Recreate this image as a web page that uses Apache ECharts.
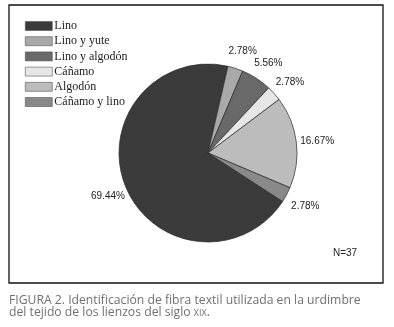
<!DOCTYPE html>
<html>
<head>
<meta charset="utf-8">
<script src="https://cdn.jsdelivr.net/npm/echarts@6/dist/echarts.min.js"></script>
<style>html,body{margin:0;padding:0;background:#fff}#c{width:394px;height:327px}</style>
</head>
<body>
<div id="c"></div>
<script>
var categories = ['Lino', 'Lino y yute', 'Lino y algodón', 'Cáñamo', 'Algodón', 'Cáñamo y lino'];
var percents = [69.44, 2.78, 5.56, 2.78, 16.67, 2.78];
var colors = ['#3b3b3b', '#a9a9a9', '#696969', '#e6e6e6', '#bcbcbc', '#898989'];
var noteText = 'N=37';
var captionLine1 = 'FIGURA 2. Identificación de fibra textil utilizada en la urdimbre';
var captionLine2a = 'del tejido de los lienzos del siglo ';
var captionLine2b = 'XIX';

var data = categories.map(function (n, i) {
  return { name: n, value: percents[i], itemStyle: { color: colors[i] } };
});

var chart = echarts.init(document.getElementById('c'), null, { renderer: 'canvas' });
chart.setOption({
  animation: false,
  backgroundColor: '#fff',
  legend: {
    orient: 'vertical',
    left: 25,
    top: 20,
    padding: 0,
    itemWidth: 27,
    itemHeight: 9,
    itemGap: 3.2,
    icon: 'rect',
    data: categories,
    itemStyle: { borderColor: '#555', borderWidth: 0.6 },
    textStyle: { fontFamily: 'Liberation Serif', fontSize: 12, color: '#222', padding: [0, 0, 0, -3] }
  },
  series: [
    {
      type: 'pie',
      center: [208, 153],
      radius: 89,
      startAngle: -33,
      clockwise: true,
      data: data,
      label: { show: false },
      labelLine: { show: false },
      itemStyle: { borderColor: '#2a2a2a', borderWidth: 0.7 },
      emphasis: { disabled: true }
    },
    {
      type: 'pie',
      center: [208, 153],
      radius: [0, 212],
      startAngle: -33,
      clockwise: true,
      silent: true,
      data: data.map(function (d) { return { name: d.name, value: d.value }; }),
      itemStyle: { color: 'rgba(0,0,0,0)', borderWidth: 0 },
      label: {
        show: true,
        position: 'inside',
        offset: [1, 2],
        formatter: function (p) { return p.value.toFixed(2) + '%'; },
        fontFamily: 'Liberation Sans',
        fontSize: 10,
        color: '#222'
      },
      labelLine: { show: false },
      emphasis: { disabled: true }
    }
  ],
  graphic: [
    { type: 'rect', shape: { x: 9, y: 5, width: 374, height: 278 }, style: { fill: 'none', stroke: '#111', lineWidth: 1.3 } },
    { type: 'text', left: 333, top: 248, style: { text: noteText, font: '10px "Liberation Sans"', fill: '#222' } },
    { type: 'text', left: 9, top: 295, style: { text: captionLine1, font: '12.2px "Open Sans"', fill: '#707070' } },
    { type: 'text', left: 9, top: 307, style: {
        text: '{a|' + captionLine2a + '}{b|' + captionLine2b + '}{a|.}',
        rich: {
          a: { font: '12.2px "Open Sans"', fill: '#707070' },
          b: { font: '9px "Open Sans"', fill: '#707070' }
        }
      } }
  ]
});
</script>
</body>
</html>
